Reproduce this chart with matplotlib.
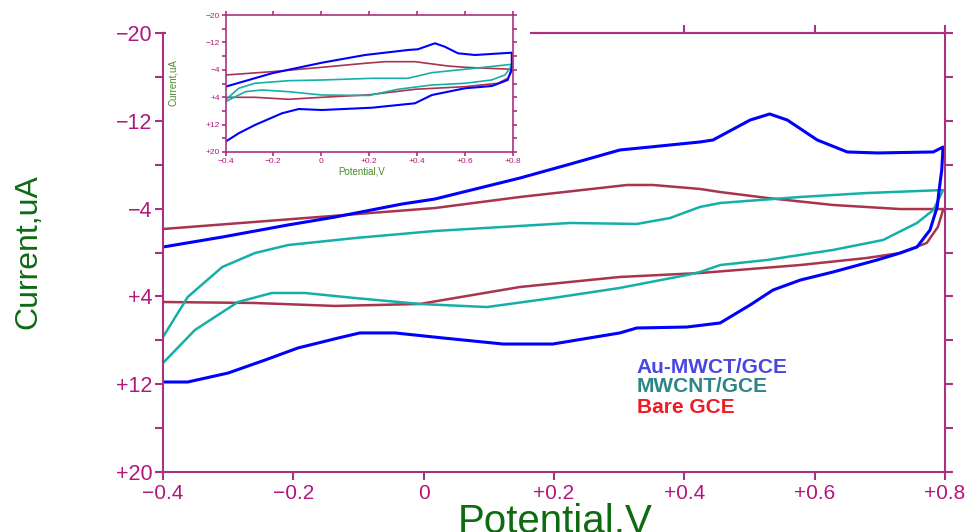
import matplotlib
matplotlib.use('Agg')
import matplotlib.pyplot as plt
from matplotlib.patches import Rectangle
from matplotlib.ticker import FixedLocator, FuncFormatter

# cyclic voltammograms: potential (V) vs current (uA), anodic sweep then cathodic return
au_E = [-0.400, -0.309, -0.208, -0.136, -0.033, 0.017, 0.148, 0.225, 0.301, 0.347,
        0.424, 0.444, 0.501, 0.531, 0.558, 0.604, 0.650, 0.696, 0.782, 0.797,
        0.795, 0.791, 0.788, 0.777, 0.757, 0.731, 0.696, 0.628, 0.578, 0.536,
        0.501, 0.455, 0.404, 0.327, 0.301, 0.198, 0.122, 0.030, -0.044, -0.098,
        -0.131, -0.193, -0.243, -0.300, -0.362, -0.400]
au_I = [-0.50, -1.41, -2.51, -3.23, -4.42, -4.87, -6.79, -8.06, -9.34, -9.61,
        -10.07, -10.25, -12.07, -12.62, -12.07, -10.25, -9.16, -9.07, -9.16, -9.61,
        -7.52, -5.69, -4.15, -2.05, -0.50, 0.05, 0.68, 1.78, 2.51, 3.42,
        4.78, 6.42, 6.79, 6.88, 7.33, 8.34, 8.34, 7.79, 7.33, 7.33,
        7.79, 8.70, 9.79, 10.98, 11.80, 11.80]

mw_E = [-0.400, -0.362, -0.309, -0.259, -0.208, -0.105, 0.017, 0.225, 0.327, 0.378,
        0.424, 0.455, 0.475, 0.578, 0.680, 0.797,
        0.792, 0.782, 0.757, 0.705, 0.628, 0.527, 0.455, 0.424, 0.404, 0.301,
        0.198, 0.097, -0.006, -0.105, -0.182, -0.233, -0.285, -0.351, -0.400]
mw_I = [7.70, 4.05, 1.32, 0.05, -0.68, -1.32, -1.96, -2.69, -2.60, -3.14,
        -4.15, -4.51, -4.60, -5.06, -5.42, -5.69,
        -5.06, -3.87, -2.69, -1.14, -0.23, 0.68, 1.14, 1.78, 2.05, 3.23,
        4.15, 4.97, 4.69, 4.15, 3.69, 3.69, 4.51, 7.06, 10.07]

bare_E = [-0.400, 0.017, 0.148, 0.312, 0.352, 0.424, 0.455, 0.527, 0.628, 0.731, 0.798,
          0.797, 0.789, 0.772, 0.731, 0.680, 0.578, 0.424, 0.301, 0.148, -0.006,
          -0.136, -0.259, -0.400]
bare_I = [-2.14, -4.05, -5.06, -6.15, -6.15, -5.79, -5.51, -4.97, -4.33, -3.96, -3.96,
          -3.87, -2.32, -0.87, 0.05, 0.50, 1.14, 1.87, 2.23, 3.14, 4.69,
          4.87, 4.60, 4.51]

# small panel, earlier run of the same electrodes
ins_au_E = [-0.400, -0.206, 0.003, 0.183, 0.363, 0.404, 0.476, 0.517, 0.572, 0.643, 0.797,
            0.797, 0.780, 0.714, 0.601, 0.463, 0.392, 0.212, 0.003, -0.094, -0.164,
            -0.277, -0.345, -0.400]
ins_au_I = [0.93, -2.98, -6.07, -8.32, -9.78, -9.99, -11.74, -10.74, -8.82, -8.32, -9.00,
            -4.44, -1.02, 0.73, 1.40, 3.36, 5.78, 7.07, 7.74, 7.45, 8.70,
            12.12, 14.54, 16.99]

ins_mw_E = [-0.400, -0.345, -0.277, -0.136, 0.003, 0.212, 0.363, 0.462, 0.601, 0.797,
            0.789, 0.768, 0.712, 0.601, 0.462, 0.321, 0.200, 0.003, -0.136, -0.247,
            -0.317, -0.400]
ins_mw_I = [4.82, 1.40, -0.06, -0.82, -1.02, -1.52, -1.52, -3.16, -4.15, -5.60,
            -4.44, -2.48, -1.02, -0.06, 0.44, 1.69, 3.50, 3.36, 2.39, 1.90,
            2.39, 5.31]

ins_bare_E = [-0.400, -0.206, 0.003, 0.183, 0.267, 0.392, 0.530, 0.601, 0.797,
              0.797, 0.780, 0.739, 0.601, 0.392, 0.200, 0.003, -0.136, -0.277, -0.400]
ins_bare_I = [-2.48, -3.45, -4.73, -5.90, -6.37, -6.37, -5.11, -4.73, -4.15,
              -3.45, -1.52, -0.06, 0.93, 1.69, 3.30, 4.03, 4.61, 4.03, 4.03]

x_ticks = [-0.4, -0.2, 0.0, 0.2, 0.4, 0.6, 0.8]
x_top_ticks = [0.4, 0.6, 0.8]
y_ticks = [-20, -12, -4, 4, 12, 20]
y_minor = [-16, -8, 0, 8, 16]
legend_names = ['Au-MWCT/GCE', 'MWCNT/GCE', 'Bare GCE']

SPINE = '#a8327f'
TICK_TXT = '#b3177d'
GREEN = '#0e6b12'
BLUE = '#0000ff'
TEAL = '#14b0a8'
MAROON = '#a8344e'

plt.rcParams['font.family'] = 'Liberation Sans'


def fmt_x(v, pos=None):
    if abs(v) < 1e-9:
        return '0'
    return ('+%.1f' % v) if v > 0 else '\u2212%.1f' % -v


def fmt_y(v, pos=None):
    return ('+%d' % v) if v > 0 else '\u2212%d' % -v


def style_axes(ax, lw, tlen, size, pad, top=True):
    for s in ax.spines.values():
        s.set_color(SPINE)
        s.set_linewidth(lw)
    ax.set_xlim(-0.4, 0.8)
    ax.set_ylim(20, -20)
    ax.xaxis.set_major_locator(FixedLocator(x_ticks))
    ax.xaxis.set_major_formatter(FuncFormatter(fmt_x))
    ax.yaxis.set_major_locator(FixedLocator(y_ticks))
    ax.yaxis.set_minor_locator(FixedLocator(y_minor))
    ax.yaxis.set_major_formatter(FuncFormatter(fmt_y))
    ax.tick_params(which='both', direction='out', color=SPINE, width=lw,
                   length=tlen, labelcolor=TICK_TXT, labelsize=size, pad=pad,
                   top=top, right=True)


fig = plt.figure(figsize=(9.74, 5.32), dpi=100)

ax = fig.add_axes([163 / 974, 1 - 472 / 532, 782 / 974, 439 / 532])
style_axes(ax, 1.5, 5.5, 15.5, 2, top=False)
ax.tick_params(axis='x', labelsize=15, pad=3)
# only the right part of the top edge carries ticks
sec = ax.secondary_xaxis('top')
sec.set_xticks(x_top_ticks)
sec.tick_params(direction='out', color=SPINE, width=1.5, length=5.5,
                labeltop=False)
sec.spines['top'].set_color(SPINE)
sec.spines['top'].set_linewidth(1.5)

ax.plot(bare_E, bare_I, color=MAROON, lw=1.8)
ax.plot(mw_E, mw_I, color=TEAL, lw=1.8)
ax.plot(au_E, au_I, color=BLUE, lw=2.2)

# legend drawn as coloured text lines
legend_colors = ['#4848e0', '#2e8585', '#ee1c25']
for name, c, yv in zip(legend_names, legend_colors, [10.5, 12.25, 14.1]):
    ax.text(0.327, yv, name, color=c, fontsize=15, fontweight='bold',
            va='center', ha='left')

fig.text(28 / 974, 1 - 252 / 532, 'Current,uA', color=GREEN, fontsize=23,
         rotation=90, ha='center', va='center')
fig.text(555 / 974, 1 - 522 / 532, 'Potential,V', color=GREEN, fontsize=29,
         ha='center', va='center')

# white backing behind the small panel
fig.patches.append(Rectangle((166 / 974, 1 - 174 / 532), 364 / 974, 174 / 532,
                             transform=fig.transFigure, facecolor='white',
                             edgecolor='none', zorder=1))

ins = fig.add_axes([225.5 / 974, 1 - 152 / 532, 287 / 974, 137 / 532], zorder=2)
style_axes(ins, 1.2, 3, 6, 1.0)
ins.plot(ins_bare_E, ins_bare_I, color=MAROON, lw=1.2)
ins.plot(ins_mw_E, ins_mw_I, color=TEAL, lw=1.2)
ins.plot(ins_au_E, ins_au_I, color=BLUE, lw=1.5)
fig.text(173 / 974, 1 - 83 / 532, 'Current,uA', color='#4a8a2a', fontsize=7,
         rotation=90, ha='center', va='center', zorder=3)
fig.text(362 / 974, 1 - 171 / 532, 'Potential,V', color='#4a8a2a', fontsize=7,
         ha='center', va='center', zorder=3)

fig.savefig('out.png', dpi=100)
